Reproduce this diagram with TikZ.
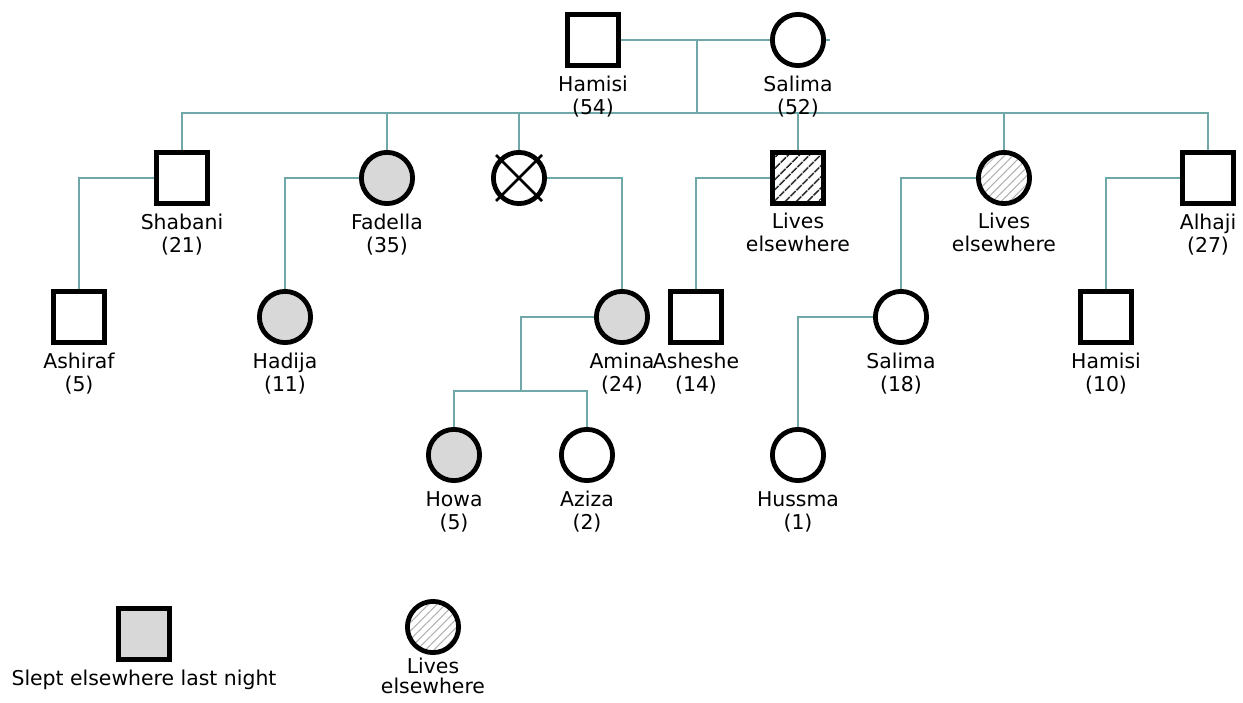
\documentclass[tikz,border=0pt]{standalone}
\usepackage{fontspec}
\setmainfont{DejaVu Sans}
\usetikzlibrary{positioning, patterns.meta}
\pgfdeclarelayer{bg}
\pgfsetlayers{bg,main}
\definecolor{kin}{RGB}{110,168,168}
\definecolor{slept}{RGB}{216,216,216}
\tikzset{
	person/.style={draw=black, line width=2.4pt, fill=white, inner sep=0pt, minimum size=25.6pt},
	male/.style={person, rectangle},
	female/.style={person, circle},
	away/.style={fill=slept},
	livesm/.style={preaction={fill=white}, pattern={Lines[angle=45,distance=4pt,line width=0.9pt]}, pattern color=black!85},
	livesf/.style={preaction={fill=white}, pattern={Lines[angle=45,distance=3pt,line width=0.5pt]}, pattern color=black!30},
	lbl/.style={font=\fontsize{10.2}{11.5}\selectfont, align=center, inner sep=0pt, label distance=4pt},
	tie/.style={draw=kin, line width=0.75pt},
}

\begin{document}
\begin{tikzpicture}[x=0.5pt, y=-0.5pt]
	\useasboundingbox (0,0) rectangle (1243,702);
	% nodes %
	\node[male, label={[lbl]below:{Hamisi\\(54)}}] (hamisi) at (593,40) {};
	\node[female, label={[lbl]below:{Salima\\(52)}}] (salima) at (798,40) {};
	% children %
	\node[male, label={[lbl]below:{Shabani\\(21)}}] (shabani) at (182,178) {};
	\node[female, away, label={[lbl]below:{Fadella\\(35)}}] (fadella) at (387,178) {};
	\node[female] (lost) at (519,178) {};
	\node[male, livesm, label={[lbl]below:{Lives\\elsewhere}}] (awaym) at (798,178) {};
	\node[female, livesf, label={[lbl]below:{Lives\\elsewhere}}] (awayf) at (1004,178) {};
	\node[male, label={[lbl]below:{Alhaji\\(27)}}] (alhaji) at (1208,178) {};
	% grandchildren %
	\node[male, label={[lbl]below:{Ashiraf\\(5)}}] (ashiraf) at (79,317) {};
	\node[female, away, label={[lbl]below:{Hadija\\(11)}}] (hadija) at (285,317) {};
	\node[female, away, label={[lbl]below:{Amina\\(24)}}] (amina) at (622,317) {};
	\node[male, label={[lbl]below:{Asheshe\\(14)}}] (asheshe) at (696,317) {};
	\node[female, label={[lbl]below:{Salima\\(18)}}] (salimab) at (901,317) {};
	\node[male, label={[lbl]below:{Hamisi\\(10)}}] (hamisib) at (1106,317) {};
	% great-grandchildren %
	\node[female, away, label={[lbl]below:{Howa\\(5)}}] (howa) at (454,455) {};
	\node[female, label={[lbl]below:{Aziza\\(2)}}] (aziza) at (587,455) {};
	\node[female, label={[lbl]below:{Hussma\\(1)}}] (hussma) at (798,455) {};
	% key %
	\node[male, away, label={[lbl]below:{Slept elsewhere last night}}] (keyslept) at (144,634) {};
	\node[female, livesf, label={[lbl, label distance=1.5pt, font=\fontsize{10.2}{9.6}\selectfont]below:{Lives\\elsewhere}}] (keylives) at (433,627) {};
	% deceased cross %
	\draw[line width=1.3pt] (lost.center) ++(-23,-23) -- ++(46,46);
	\draw[line width=1.3pt] (lost.center) ++(23,-23) -- ++(-46,46);
	% connections %
	\begin{pgfonlayer}{bg}
		\coordinate (mar) at (697,40);
		\coordinate (sib) at (697,113);
		\coordinate (amk) at (521,391);
		\draw[tie] (hamisi.east) -- ([xshift=2pt]salima.east);
		\draw[tie] (mar) -- (sib);
		\draw[tie] (shabani.north) |- (sib) -| (alhaji.north);
		\foreach \k in {fadella, lost, awaym, awayf}
			\draw[tie] (\k.north) -- (\k.north |- sib);
		\draw[tie] (shabani.west) -| (ashiraf.north);
		\draw[tie] (fadella.west) -| (hadija.north);
		\draw[tie] (lost.east) -| (amina.north);
		\draw[tie] (awaym.west) -| (asheshe.north);
		\draw[tie] (awayf.west) -| (salimab.north);
		\draw[tie] (alhaji.west) -| (hamisib.north);
		\draw[tie] (amina.west) -| (amk);
		\draw[tie] (howa.north) |- (amk) -| (aziza.north);
		\draw[tie] (salimab.west) -| (hussma.north);
	\end{pgfonlayer}
\end{tikzpicture}
\end{document}
